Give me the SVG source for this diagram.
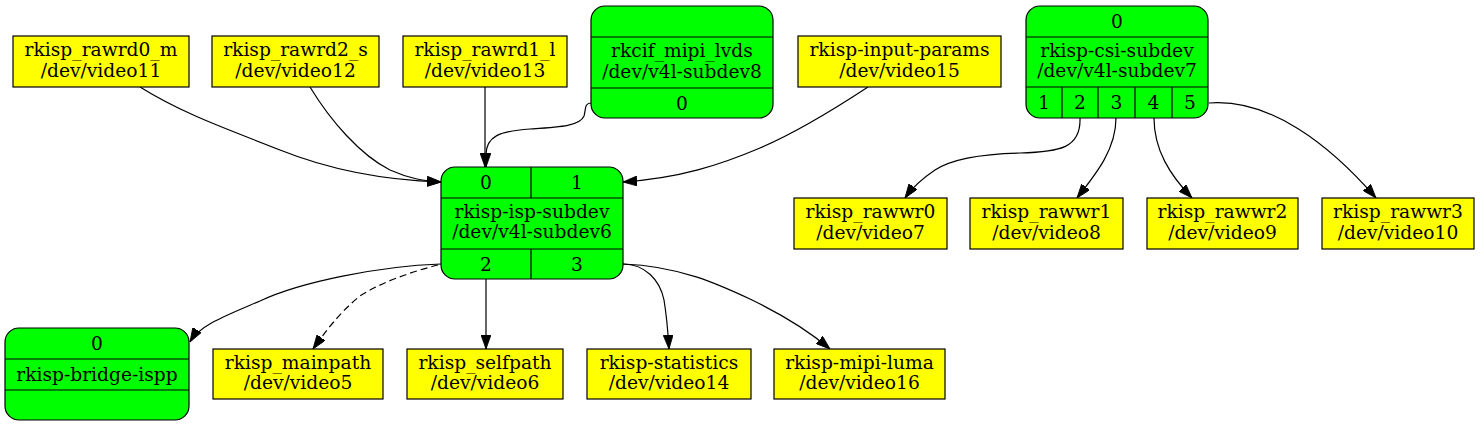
<svg xmlns="http://www.w3.org/2000/svg" width="1480" height="427" viewBox="0 0 1480 427">
<style>
.y{fill:#ffff00;stroke:#000;stroke-width:1.2}
.g{fill:#00ff00;stroke:#000;stroke-width:1.2}
.d{stroke:#000;stroke-width:1.2;fill:none}
text{font-family:"DejaVu Serif","Liberation Serif",serif;font-size:18.67px;text-anchor:middle;fill:#000}
.e{fill:none;stroke:#000;stroke-width:1.2;marker-end:url(#ah)}
.dash{stroke-dasharray:7,4}
</style>
<defs>
<marker id="ah" markerUnits="userSpaceOnUse" markerWidth="14" markerHeight="10" viewBox="0 0 13.3 9.4" refX="13.3" refY="4.7" orient="auto">
<path d="M0,0 L13.3,4.7 L0,9.4 z" fill="#000" stroke="#000" stroke-width="0.8"/>
</marker>
</defs>
<g id="connectors">
<path class="e" d="M140,87 C185,115 230,130 280,150 C330,170 380,180 441,182"/>
<path class="e" d="M310,87 C330,120 360,155 390,170 C410,179 425,181 441,182"/>
<path class="e" d="M485,87 L485,167"/>
<path class="e" d="M591,103 C584,103 586,110 584,116 C580,126 560,127 530,129 C500,131 486,136 486,155 L486,167"/>
<path class="e" d="M868,87 C830,112 795,133 760,148 C720,165 680,178 623,182"/>
<path class="e" d="M441,264 C380,266 300,282 260,301 C225,316 200,325 190,342"/>
<path class="e dash" d="M438,265 C410,272 380,283 360,296 C340,312 325,332 313,349"/>
<path class="e" d="M486,279 L486,349"/>
<path class="e" d="M623,264 C645,264 660,280 664,300 C667,318 668,332 669,349"/>
<path class="e" d="M623,264 C680,266 720,285 752,300 C785,316 810,332 830,349"/>
<path class="e" d="M1080,118 C1081,148 1060,152 1020,153 C975,154 950,160 935,170 C920,180 912,188 905,198"/>
<path class="e" d="M1116,118 C1116,150 1095,175 1077,198"/>
<path class="e" d="M1154,118 C1154,150 1170,175 1192,198"/>
<path class="e" d="M1209,103 C1270,98 1330,145 1376,198"/>
</g>
<g id="rawrd0_m"><rect class="y" x="13" y="36" width="176" height="51"/><text x="101" y="56">rkisp_rawrd0_m</text><text x="101" y="76.5">/dev/video11</text></g>
<g id="rawrd2_s"><rect class="y" x="212" y="36" width="167" height="51"/><text x="295.5" y="56">rkisp_rawrd2_s</text><text x="295.5" y="76.5">/dev/video12</text></g>
<g id="rawrd1_l"><rect class="y" x="403" y="36" width="164" height="51"/><text x="485" y="56">rkisp_rawrd1_l</text><text x="485" y="76.5">/dev/video13</text></g>
<g id="input_params"><rect class="y" x="798" y="36" width="203" height="51"/><text x="899.5" y="56">rkisp-input-params</text><text x="899.5" y="76.5">/dev/video15</text></g>
<g id="rkcif"><rect class="g" x="591" y="6" width="182" height="112" rx="14"/><path class="d" d="M591,37 H773 M591,88 H773"/><text x="682" y="57">rkcif_mipi_lvds</text><text x="682" y="77.5">/dev/v4l-subdev8</text><text x="682" y="109.5">0</text></g>
<g id="csi_subdev"><rect class="g" x="1026" y="6" width="182" height="112" rx="14"/><path class="d" d="M1026,37 H1208 M1026,87 H1208 M1062,87 V118 M1098,87 V118 M1135,87 V118 M1172,87 V118"/><text x="1117" y="28">0</text><text x="1117" y="56.5">rkisp-csi-subdev</text><text x="1117" y="77">/dev/v4l-subdev7</text><text x="1044" y="109">1</text><text x="1080" y="109">2</text><text x="1116.5" y="109">3</text><text x="1153.5" y="109">4</text><text x="1190" y="109">5</text></g>
<g id="isp_subdev"><rect class="g" x="441" y="167" width="182" height="112" rx="14"/><path class="d" d="M441,198 H623 M441,249 H623 M531,167 V198 M531,249 V279"/><text x="486" y="188.5">0</text><text x="577" y="188.5">1</text><text x="532" y="217.5">rkisp-isp-subdev</text><text x="532" y="238">/dev/v4l-subdev6</text><text x="486" y="270.5">2</text><text x="577" y="270.5">3</text></g>
<g id="rawwr0"><rect class="y" x="794" y="198" width="153" height="51"/><text x="870.5" y="218">rkisp_rawwr0</text><text x="870.5" y="238.5">/dev/video7</text></g>
<g id="rawwr1"><rect class="y" x="970" y="198" width="153" height="51"/><text x="1046.5" y="218">rkisp_rawwr1</text><text x="1046.5" y="238.5">/dev/video8</text></g>
<g id="rawwr2"><rect class="y" x="1147" y="198" width="151" height="51"/><text x="1222.5" y="218">rkisp_rawwr2</text><text x="1222.5" y="238.5">/dev/video9</text></g>
<g id="rawwr3"><rect class="y" x="1322" y="198" width="152" height="51"/><text x="1398" y="218">rkisp_rawwr3</text><text x="1398" y="238.5">/dev/video10</text></g>
<g id="bridge_ispp"><rect class="g" x="5" y="328" width="184" height="92" rx="14"/><path class="d" d="M5,359 H189 M5,390 H189"/><text x="97" y="349.5">0</text><text x="97" y="381">rkisp-bridge-ispp</text></g>
<g id="mainpath"><rect class="y" x="213" y="349" width="170" height="50"/><text x="298" y="368.5">rkisp_mainpath</text><text x="298" y="389">/dev/video5</text></g>
<g id="selfpath"><rect class="y" x="407" y="349" width="156" height="50"/><text x="485" y="368.5">rkisp_selfpath</text><text x="485" y="389">/dev/video6</text></g>
<g id="statistics"><rect class="y" x="587" y="349" width="164" height="50"/><text x="669" y="368.5">rkisp-statistics</text><text x="669" y="389">/dev/video14</text></g>
<g id="mipi_luma"><rect class="y" x="774" y="349" width="171" height="50"/><text x="859.5" y="368.5">rkisp-mipi-luma</text><text x="859.5" y="389">/dev/video16</text></g>
</svg>
